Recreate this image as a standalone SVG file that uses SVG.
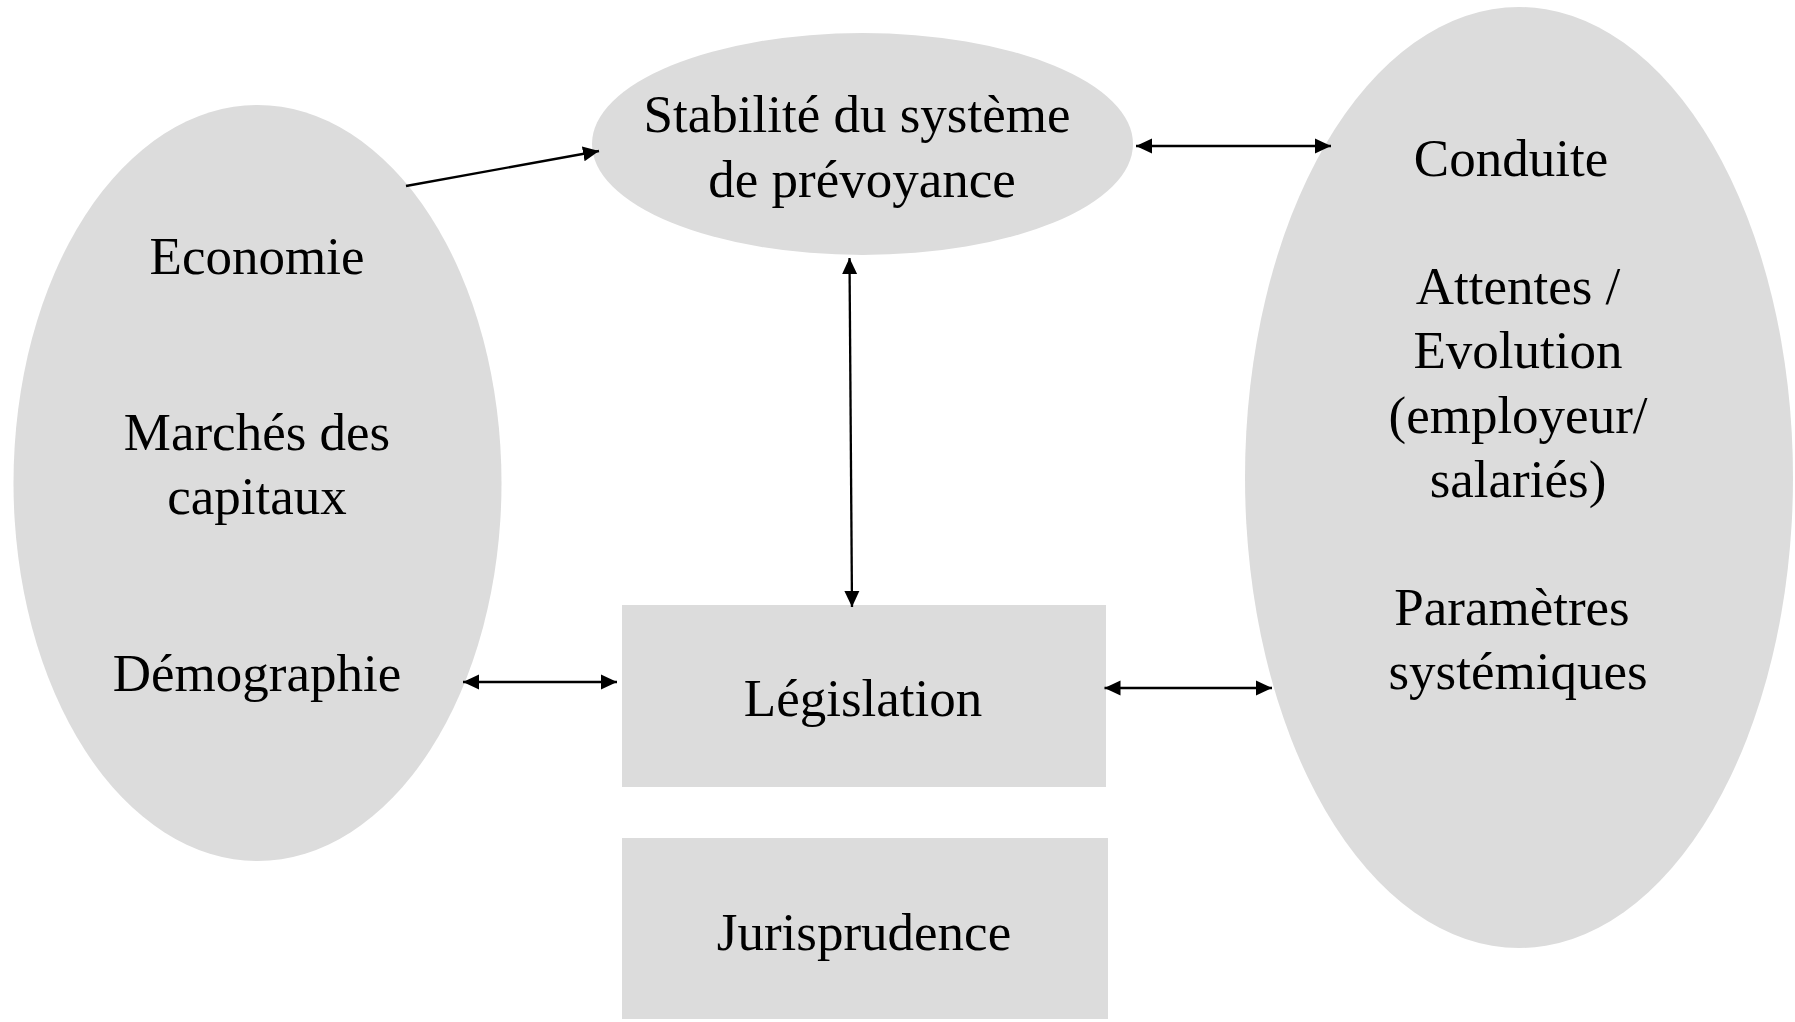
<svg xmlns="http://www.w3.org/2000/svg" width="1795" height="1022" viewBox="0 0 1795 1022">
<style>
.shape{fill:#dcdcdc;stroke:none}
.t{font-family:"Liberation Serif","Times New Roman",serif;font-size:53px;fill:#000;text-anchor:middle}
.c{stroke:#000;stroke-width:2.3;fill:none;marker-end:url(#ah)}
.c2{marker-start:url(#ah)}
</style>
<defs>
<marker id="ah" markerUnits="userSpaceOnUse" markerWidth="17" markerHeight="16" refX="16" refY="7.5" orient="auto-start-reverse" viewBox="0 0 17 15">
<path d="M0,0 L16,7.5 L0,15 z" fill="#000"/>
</marker>
</defs>
<rect width="1795" height="1022" fill="#fff"/>
<g id="n-left">
<ellipse class="shape" cx="257.5" cy="483" rx="244" ry="378"/>
<text class="t" x="257" y="274">Economie</text>
<text class="t" x="257" y="450">Marchés des</text>
<text class="t" x="257" y="514">capitaux</text>
<text class="t" x="257" y="691">Démographie</text>
</g>
<g id="n-stab">
<ellipse class="shape" cx="862.5" cy="144" rx="270.5" ry="111"/>
<text class="t" x="857" y="132">Stabilité du système</text>
<text class="t" x="862" y="197">de prévoyance</text>
</g>
<g id="n-right">
<ellipse class="shape" cx="1519" cy="477.5" rx="274" ry="470.5"/>
<text class="t" x="1511" y="176">Conduite</text>
<text class="t" x="1518" y="304">Attentes /</text>
<text class="t" x="1518" y="368">Evolution</text>
<text class="t" x="1518" y="433">(employeur/</text>
<text class="t" x="1518" y="497">salariés)</text>
<text class="t" x="1512" y="625">Paramètres</text>
<text class="t" x="1518" y="689">systémiques</text>
</g>
<g id="n-leg">
<rect class="shape" x="622" y="605" width="484" height="182"/>
<text class="t" x="863" y="716">Législation</text>
</g>
<g id="n-jur">
<rect class="shape" x="622" y="838" width="486" height="181"/>
<text class="t" x="864" y="950">Jurisprudence</text>
</g>
<g id="connectors">
<line class="c" x1="406" y1="186" x2="599" y2="151"/>
<line class="c c2" x1="1136" y1="146" x2="1331" y2="146"/>
<line class="c c2" x1="849.5" y1="258" x2="852" y2="607"/>
<line class="c c2" x1="463" y1="682" x2="617" y2="682"/>
<line class="c c2" x1="1104.5" y1="688" x2="1272" y2="688"/>
</g>
</svg>
